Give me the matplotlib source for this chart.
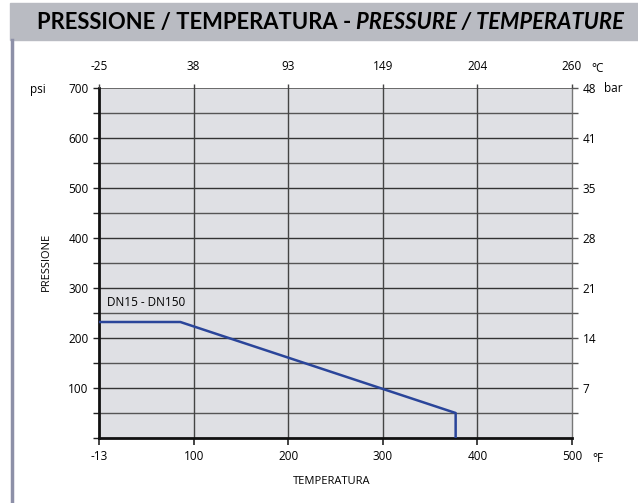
import matplotlib
matplotlib.use("Agg")
import matplotlib.pyplot as plt
from matplotlib.patches import Rectangle
from matplotlib.lines import Line2D

plt.rcParams['font.family'] = ['Open Sans', 'DejaVu Sans']

# dati
temp_f = [0, 86, 377, 377]
press_psi = [232, 232, 50, 0]
f_ticks = [0, 100, 200, 300, 400, 500]
f_labels = ['-13', '100', '200', '300', '400', '500']
c_labels = ['-25', '38', '93', '149', '204', '260']
psi_ticks = [100, 200, 300, 400, 500, 600, 700]
bar_labels = ['7', '14', '21', '28', '35', '41', '48']

fig = plt.figure(figsize=(6.38, 5.03), dpi=100)

# barra del titolo e bordo sinistro
fig.patches.append(Rectangle((10 / 638, 1 - 40 / 503), 628 / 638, 37 / 503,
                             transform=fig.transFigure, color='#b9bbc2', zorder=0))
fig.lines.append(Line2D([12 / 638, 12 / 638], [0, 1 - 40 / 503],
                        transform=fig.transFigure, color='#8d90a8', lw=2.5))

# titolo: misura e adatta alla larghezza (37..625 px)
tfam = ['Lato', 'DejaVu Sans']
fs = 15
t1 = fig.text(0, 0, 'PRESSIONE / TEMPERATURA - ', fontsize=fs, fontweight='bold', family=tfam)
t2 = fig.text(0, 0, 'PRESSURE / TEMPERATURE', fontsize=fs, fontweight='bold',
              style='italic', family=tfam)
r = fig.canvas.get_renderer()
w1 = t1.get_window_extent(r).width
w2 = t2.get_window_extent(r).width
k = 588 / (w1 + w2)
t1.set_fontsize(fs * k)
t2.set_fontsize(fs * k)
t1.set_position((37 / 638, 1 - 23 / 503))
t2.set_position(((37 + w1 * k) / 638, 1 - 23 / 503))
t1.set_va('center')
t2.set_va('center')

ax = fig.add_axes([99 / 638, 1 - 438 / 503, 473 / 638, 350 / 503])
ax.set_facecolor('#dfe0e4')
ax.set_xlim(0, 500)
ax.set_ylim(0, 700)

ax.set_xticks(f_ticks)
ax.set_xticklabels(f_labels)
ax.set_yticks(list(range(0, 701, 50)))
ax.set_yticklabels(['' if v not in psi_ticks else str(v) for v in range(0, 701, 50)])
ax.tick_params(axis='both', labelsize=8.5, color='#222222', length=5, width=1.2)
ax.tick_params(axis='y', length=4, width=1)

for v in range(50, 700, 50):
    ax.axhline(v, color='#333333' if v % 100 == 0 else '#555555', lw=1, zorder=1)
ax.axhline(700, color='#555555', lw=1.2, zorder=1)
for v in f_ticks[1:-1]:
    ax.axvline(v, color='#444444', lw=1, zorder=1)

ax.spines['top'].set_visible(False)
ax.spines['left'].set_linewidth(2)
ax.spines['bottom'].set_linewidth(2)
ax.spines['left'].set_color('#111111')
ax.spines['bottom'].set_color('#111111')
ax.spines['right'].set_color('#777777')
ax.spines['right'].set_linewidth(1)

ax.plot(temp_f, press_psi, color='#2a459a', lw=1.8, zorder=3)
ax.text(8, 258, 'DN15 - DN150', fontsize=8.5, ha='left', va='bottom')

# asse superiore °C
axt = ax.twiny()
axt.set_xlim(ax.get_xlim())
axt.set_xticks(f_ticks)
axt.set_xticklabels(c_labels)
axt.tick_params(axis='x', labelsize=8.5, length=3, width=1, color='#444444', pad=8)
for s in axt.spines.values():
    s.set_visible(False)

# asse destro bar
axr = ax.twinx()
axr.set_ylim(ax.get_ylim())
axr.set_yticks(list(range(50, 701, 50)))
axr.set_yticklabels(['' if v not in psi_ticks else bar_labels[psi_ticks.index(v)]
                     for v in range(50, 701, 50)])
axr.tick_params(axis='y', labelsize=8.5, length=4, width=1, color='#555555')
for s in axr.spines.values():
    s.set_visible(False)

fig.text(38 / 638, 1 - 89 / 503, 'psi', fontsize=8.5, ha='center', va='center')
fig.text(613 / 638, 1 - 89 / 503, 'bar', fontsize=8.5, ha='center', va='center')
fig.text(598 / 638, 1 - 69 / 503, '°C', fontsize=8.5, ha='center', va='center')
fig.text(598 / 638, 1 - 458 / 503, '°F', fontsize=8.5, ha='center', va='center')
fig.text(46 / 638, 1 - 262 / 503, 'PRESSIONE', fontsize=8, rotation=90, ha='center', va='center')
fig.text(332 / 638, 1 - 481 / 503, 'TEMPERATURA', fontsize=8, ha='center', va='center')

fig.savefig('out.png', dpi=100)
